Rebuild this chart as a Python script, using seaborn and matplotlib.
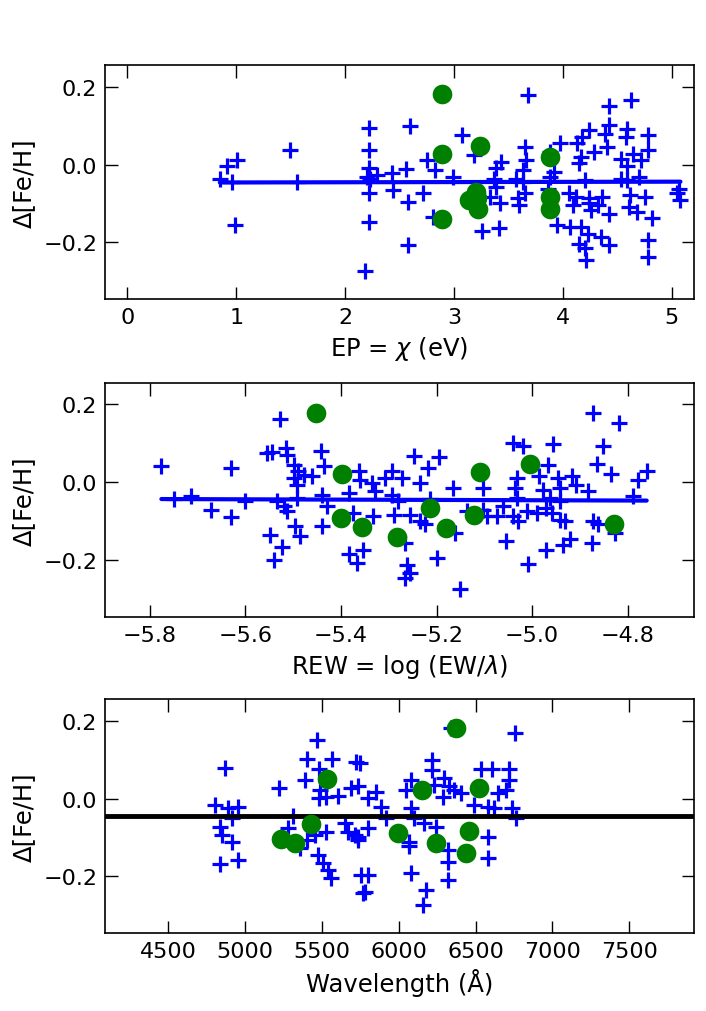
import numpy as np
import matplotlib
matplotlib.use("Agg")
import matplotlib.pyplot as plt
import seaborn as sns

# ---------------- data ----------------
# Panel 1: excitation potential (eV) vs Delta[Fe/H]
ep_fe1 = [2.22, 2.22, 1.49, 1.01, 0.92, 0.85, 0.96, 1.56, 0.99, 2.22, 2.22, 2.18, 2.22, 2.23, 2.29, 2.43, 2.44, 2.20,
          3.68, 2.60, 3.07, 3.65, 3.18, 2.75, 2.56, 2.83, 2.99, 2.72, 2.58, 3.43, 3.39, 3.66, 3.63, 3.37, 3.57, 3.63,
          3.39, 3.33, 3.42, 3.59, 3.60, 3.65, 2.81, 3.26, 3.41, 2.58,
          4.63, 4.42, 4.42, 4.24, 4.59, 4.18, 4.39, 4.58, 4.78, 3.97, 4.13, 4.41, 4.29, 4.78, 4.64, 4.17, 4.53, 4.72,
          4.15, 4.59, 3.92, 3.88, 4.20, 4.53, 4.59, 4.70, 5.07, 5.05, 5.08, 4.06, 4.12, 4.24, 4.36, 4.62, 4.75, 4.09,
          4.24, 4.32, 4.61, 4.26, 4.42, 4.68, 4.82, 3.95, 4.07, 4.17, 4.23, 4.35, 4.42, 4.15, 4.20, 4.78, 4.78, 4.21,
          3.88, 3.86]
dfe_ep_fe1 = [0.094, 0.038, 0.038, 0.011, -0.003, -0.036, -0.046, -0.046, -0.154, -0.074, -0.147, -0.274, -0.010,
              -0.036, -0.027, -0.023, -0.066, -0.031,
              0.179, 0.099, 0.077, 0.045, 0.024, 0.011, -0.012, -0.015, -0.032, -0.074, -0.096, 0.007, -0.010, 0.011,
              -0.015, -0.036, -0.036, -0.044, -0.057, -0.083, -0.100, -0.087, -0.104, -0.074, -0.134, -0.171, -0.162,
              -0.207,
              0.165, 0.151, 0.101, 0.088, 0.092, 0.071, 0.079, 0.071, 0.075, 0.054, 0.054, 0.045, 0.033, 0.037, 0.028,
              0.020, 0.015, 0.011, 0.003, -0.003, -0.019, -0.032, -0.040, -0.036, -0.040, -0.032, -0.062, -0.074,
              -0.092, -0.074, -0.083, -0.087, -0.083, -0.079, -0.083, -0.104, -0.100, -0.104, -0.108, -0.117, -0.126,
              -0.121, -0.138, -0.156, -0.160, -0.160, -0.177, -0.185, -0.207, -0.203, -0.215, -0.194, -0.237, -0.245,
              0.033, -0.062]
ep_fe2 = [2.89, 2.89, 3.24, 3.20, 3.14, 3.22, 2.89, 3.88, 3.88, 3.88, 3.21]
dfe_ep_fe2 = [0.180, 0.026, 0.048, -0.070, -0.092, -0.115, -0.140, 0.020, -0.083, -0.115, -0.085]
ep_fit_slope = 0.0005
ep_fit_intercept = -0.0465

# Panel 2: reduced equivalent width vs Delta[Fe/H]
rew_fe1 = [-5.527, -5.776, -5.630, -5.555, -5.544, -5.516, -5.513, -5.442, -5.436, -5.499,
           -5.489, -5.478, -5.461, -5.499, -5.492, -5.750, -5.715, -5.673, -5.631, -5.600,
           -5.534, -5.520, -5.513, -5.492, -5.440, -5.429, -5.440, -5.496, -5.485, -5.548,
           -5.523, -5.541,
           -5.248, -5.195, -5.217, -5.363, -5.293, -5.360, -5.307, -5.273, -5.234, -5.335, -5.384, -5.328, -5.293,
           -5.165, -5.102, -5.280, -5.213, -5.374, -5.332, -5.290, -5.255, -5.234, -5.224,
           -5.161, -5.137, -5.102, -5.095, -5.353, -5.384, -5.367, -5.262, -5.255, -5.266, -5.199, -5.151, -5.266,
           -4.873, -4.818, -5.039, -5.018, -4.957, -4.851, -4.966, -4.863, -4.834, -4.760,
           -4.778, -5.032, -4.985, -4.945, -4.917, -4.907, -5.036, -4.977, -4.942, -4.883,
           -4.789, -5.032, -4.963, -4.942, -5.060, -5.011, -4.970, -5.074, -5.039, -4.990,
           -4.959, -5.029, -4.942, -4.931, -4.872, -4.862, -4.827, -5.055, -4.921, -4.936,
           -4.875, -4.970, -5.008]
dfe_rew_fe1 = [0.163, 0.041, 0.038, 0.074, 0.077, 0.088, 0.071, 0.081, 0.041, 0.045,
               0.028, 0.020, 0.015, 0.011, -0.006, -0.043, -0.036, -0.070, -0.090, -0.049,
               -0.049, -0.062, -0.074, -0.040, -0.032, -0.062, -0.113, -0.113, -0.138, -0.136,
               -0.166, -0.200,
               0.068, 0.065, 0.037, 0.028, 0.028, 0.007, 0.011, 0.011, -0.002, -0.002, -0.027, -0.023, -0.032,
               -0.014, -0.014, -0.049, -0.044, -0.078, -0.087, -0.083, -0.083, -0.100, -0.108,
               -0.130, -0.074, -0.070, -0.087, -0.173, -0.185, -0.207, -0.211, -0.232, -0.245, -0.194, -0.273, -0.155,
               0.178, 0.151, 0.101, 0.092, 0.099, 0.094, 0.045, 0.047, 0.022, 0.028,
               0.007, 0.011, 0.015, 0.011, 0.015, -0.006, -0.014, -0.019, -0.014, -0.023,
               -0.036, -0.040, -0.040, -0.049, -0.062, -0.074, -0.066, -0.087, -0.087, -0.078,
               -0.078, -0.100, -0.096, -0.100, -0.100, -0.108, -0.130, -0.151, -0.145, -0.160,
               -0.157, -0.173, -0.209]
rew_fe2 = [-5.452, -5.397, -5.400, -5.356, -5.283, -5.213, -5.180, -5.110, -5.121, -5.004, -4.829]
dfe_rew_fe2 = [0.179, 0.022, -0.091, -0.114, -0.141, -0.067, -0.117, 0.026, -0.085, 0.047, -0.107]
rew_fit_slope = -0.0039
rew_fit_intercept = -0.0655

# Panel 3: wavelength (Angstrom) vs Delta[Fe/H]
wl_fe1 = [5466, 4871, 5401, 5567, 5481, 5725, 5390, 5223, 5487, 5530,
          5606, 5692, 5481, 4807, 4893, 4958, 4915, 4839, 4850, 4915,
          4958, 4839, 5314, 5282, 5455, 5530, 5401, 5357, 5476, 5508,
          5541, 5563, 5649, 5670, 5714, 5735, 5768, 5757,
          6757, 6215, 6215, 6535, 6604, 6718, 6718, 5746, 6081, 6297,
          6330, 6362, 6405, 6049, 5855, 5800, 5735, 6286, 6232, 6643,
          6697, 6740, 6762, 6578, 6621, 6492, 5887, 5919, 6081, 6168,
          6243, 6103, 5800, 5735, 6070, 6070, 6319, 6319, 6578, 6578,
          5800, 5779, 6081, 6179, 6319, 6157, 6341]
dfe_wl_fe1 = [0.150, 0.079, 0.101, 0.101, 0.077, 0.095, 0.047, 0.028, 0.022, 0.005,
              0.007, 0.026, 0.001, -0.017, -0.025, -0.021, -0.051, -0.072, -0.094, -0.111,
              -0.158, -0.169, -0.046, -0.076, -0.094, -0.085, -0.106, -0.128, -0.145, -0.166,
              -0.183, -0.205, -0.064, -0.085, -0.094, -0.106, -0.243, -0.196,
              0.167, 0.099, 0.073, 0.077, 0.077, 0.077, 0.047, 0.090, 0.047, 0.052,
              0.031, 0.022, 0.013, 0.022, 0.018, 0.001, 0.031, 0.005, 0.036, 0.013,
              0.022, -0.025, -0.051, -0.021, -0.025, -0.017, -0.021, -0.051, -0.025, -0.064,
              -0.072, -0.051, -0.076, -0.098, -0.111, -0.123, -0.132, -0.162, -0.098, -0.153,
              -0.196, -0.239, -0.192, -0.235, -0.209, -0.273, 0.180]
wl_fe2 = [5234, 5325, 5427, 5537, 5995, 6153, 6520, 6243, 6373, 6459, 6438]
dfe_wl_fe2 = [-0.105, -0.115, -0.065, 0.049, -0.089, 0.022, 0.026, -0.113, 0.182, -0.083, -0.139]
mean_dfe = -0.044

ylabel = "Δ[Fe/H]"
xlabels = [r"EP = $\chi$ (eV)", r"REW = log (EW/$\lambda$)", "Wavelength (Å)"]
xticks_ep = [0, 1, 2, 3, 4, 5]
xticks_rew = [-5.8, -5.6, -5.4, -5.2, -5.0, -4.8]
xticks_wl = [4500, 5000, 5500, 6000, 6500, 7000, 7500]
yticks = [-0.2, 0.0, 0.2]

# ---------------- plot ----------------
sns.set_style("ticks")
plt.rcParams['font.family'] = ['DejaVu Sans']
plt.rcParams['mathtext.fontset'] = 'dejavusans'
plt.rcParams['text.color'] = 'black'
plt.rcParams['axes.labelcolor'] = 'black'
plt.rcParams['xtick.color'] = 'black'
plt.rcParams['ytick.color'] = 'black'

fig = plt.figure(figsize=(7.06, 10.12), dpi=100)
left, width, height = 0.1494, 0.8329, 0.2310
bottoms = [0.7036, 0.3896, 0.0771]
axes = [fig.add_axes([left, b, width, height]) for b in bottoms]

FE1_KW = dict(marker='+', s=130, color='blue', linewidth=2.3, zorder=2)
FE2_KW = dict(marker='o', s=200, color='green', linewidth=0, zorder=4)


def style(ax, xlim, xticks, xlabel):
    ax.set_xlim(*xlim)
    ax.set_ylim(-0.345, 0.255)
    ax.set_xticks(xticks)
    ax.set_yticks(yticks)
    ax.tick_params(direction='in', length=9, width=1, top=True, right=True,
                   labelsize=16, pad=6, colors='black')
    ax.set_xlabel(xlabel, fontsize=17.5, labelpad=5, color='black')
    ax.set_ylabel(ylabel, fontsize=17.5, labelpad=5, color='black')
    for s in ax.spines.values():
        s.set_linewidth(1.2)
        s.set_color('black')
    ax.set_facecolor('white')


# Panel 1
ax = axes[0]
sns.scatterplot(x=ep_fe1, y=dfe_ep_fe1, ax=ax, **FE1_KW)
xf = np.array([min(ep_fe1), max(ep_fe1)])
sns.lineplot(x=xf, y=ep_fit_intercept + ep_fit_slope * xf, ax=ax, color='blue', linewidth=3, zorder=3)
sns.scatterplot(x=ep_fe2, y=dfe_ep_fe2, ax=ax, **FE2_KW)
style(ax, (-0.2, 5.2), xticks_ep, xlabels[0])

# Panel 2
ax = axes[1]
sns.scatterplot(x=rew_fe1, y=dfe_rew_fe1, ax=ax, **FE1_KW)
xf = np.array([min(rew_fe1), max(rew_fe1)])
sns.lineplot(x=xf, y=rew_fit_intercept + rew_fit_slope * xf, ax=ax, color='blue', linewidth=3, zorder=3)
sns.scatterplot(x=rew_fe2, y=dfe_rew_fe2, ax=ax, **FE2_KW)
style(ax, (-5.893, -4.662), xticks_rew, xlabels[1])

# Panel 3
ax = axes[2]
sns.scatterplot(x=wl_fe1, y=dfe_wl_fe1, ax=ax, **FE1_KW)
ax.axhline(mean_dfe, color='black', linewidth=3.5, zorder=3)
sns.scatterplot(x=wl_fe2, y=dfe_wl_fe2, ax=ax, **FE2_KW)
style(ax, (4094, 7917), xticks_wl, xlabels[2])

fig.savefig("out.png", dpi=100, facecolor='white')
